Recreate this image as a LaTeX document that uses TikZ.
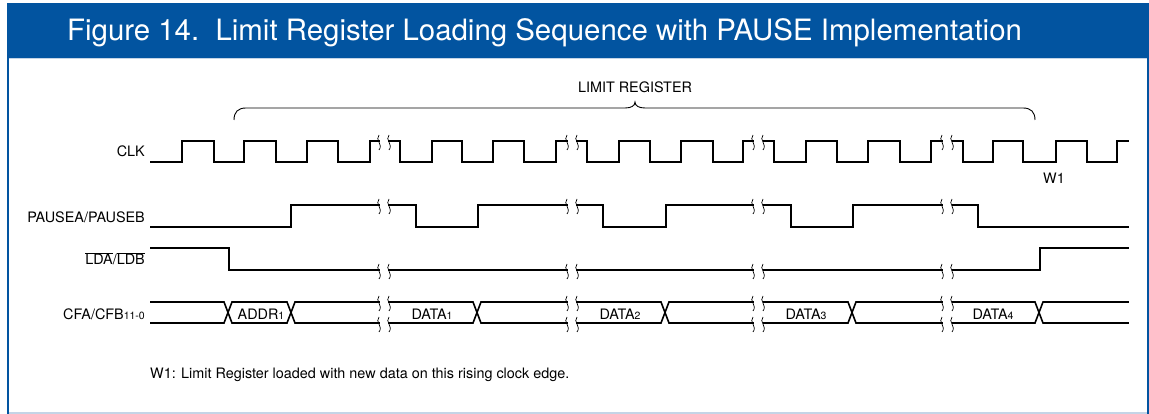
\documentclass[tikz,border=0pt]{standalone}
\usepackage{fontspec}
\setmainfont{TeX Gyre Heros}
\definecolor{hdr}{RGB}{2,84,160}
\definecolor{rulec}{RGB}{196,212,230}
\newcommand\wig[2]{\draw[brk] (#1,#2-6) .. controls (#1-4.5,#2-1) and (#1+4.5,#2+3) .. (#1,#2+9);}
\newcommand\brkpair[2]{\wig{#1}{#2}\wig{#1+10}{#2}}
\newcommand\sm[1]{\raisebox{-0.8pt}{\fontsize{10.5}{11}\selectfont #1}}
\begin{document}
\begin{tikzpicture}[x=1pt,y=-1pt,
  sig/.style={line width=1.6pt, line join=miter, line cap=rect},
  brk/.style={line width=0.7pt},
  lbl/.style={font=\fontsize{14.4}{16}\selectfont, inner sep=0pt},
  ttl/.style={font=\fontsize{29.4}{32}\selectfont, text=white, inner sep=0pt}]
\useasboundingbox (0,0) rectangle (1149,414);
\fill[white] (0,0) rectangle (1149,414);
% frame
\fill[hdr] (7,3) rectangle (1149,58);
\fill[rulec] (9,58) rectangle (1147,59.5);
\fill[hdr] (7,58) rectangle (9,414);
\fill[hdr] (1147,58) rectangle (1149,414);
\fill[rulec] (9,411.5) rectangle (1147,414);
\node[ttl, anchor=base west] (title) at (67,41) {Figure 14.\ \ Limit Register Loading Sequence with PAUSE Implementation};
% labels
\node[lbl, anchor=base east] (lclk) at (145,157) {CLK};
\node[lbl, anchor=base east] (lpause) at (145,223) {PAUSEA/PAUSEB};
\node[lbl, anchor=base east] (llda) at (145,265) {$\overline{\mbox{LDA}}$/$\overline{\mbox{LDB}}$};
\node[lbl, anchor=base east] (lcfa) at (145,319) {CFA/CFB\sm{11-0}};
% brace
\draw[line width=0.9pt] (234,120) .. controls (234,112) and (238,108) .. (246,108) -- (625,108) .. controls (631,108) and (635,106) .. (635,102) .. controls (635,106) and (639,108) .. (645,108) -- (1023,108) .. controls (1031,108) and (1035,112) .. (1035,120);
\node[lbl, anchor=base] (limreg) at (635,93) {LIMIT REGISTER};
% CLK
\draw[sig] (151,162) -- (182,162) -- (182,141) -- (214,141) -- (214,162) -- (244,162) -- (244,141) -- (276,141) -- (276,162) -- (307,162) -- (307,141) -- (338,141) -- (338,162) -- (370,162) -- (370,141) -- (379,141);
\draw[sig] (389,141) -- (400,141) -- (400,162) -- (432,162) -- (432,141) -- (462,141) -- (462,162) -- (493,162) -- (493,141) -- (524,141) -- (524,162) -- (556,162) -- (556,141) -- (567,141);
\draw[sig] (577,141) -- (587,141) -- (587,162) -- (619,162) -- (619,141) -- (650,141) -- (650,162) -- (681,162) -- (681,141) -- (713,141) -- (713,162) -- (743,162) -- (743,141) -- (753,141);
\draw[sig] (764,141) -- (774,141) -- (774,162) -- (806,162) -- (806,141) -- (837,141) -- (837,162) -- (868,162) -- (868,141) -- (900,141) -- (900,162) -- (931,162) -- (931,141) -- (942,141);
\draw[sig] (953,141) -- (963,141) -- (963,162) -- (993,162) -- (993,141) -- (1023,141) -- (1023,162) -- (1056,162) -- (1056,141) -- (1087,141) -- (1087,162) -- (1117,162) -- (1117,141) -- (1128,141);
\node[lbl, anchor=base] (w1) at (1054,184) {W1};
% PAUSE
\draw[sig] (151,227) -- (291,227) -- (291,205) -- (379,205);
\draw[sig] (389,205) -- (416,205) -- (416,227) -- (478,227) -- (478,205) -- (567,205);
\draw[sig] (577,205) -- (603,205) -- (603,227) -- (666,227) -- (666,205) -- (753,205);
\draw[sig] (764,205) -- (791,205) -- (791,227) -- (853,227) -- (853,205) -- (942,205);
\draw[sig] (953,205) -- (978,205) -- (978,227) -- (1128,227);
% LDA
\draw[sig] (151,248) -- (229,248) -- (229,270) -- (379,270);
\draw[sig] (389,270) -- (567,270);
\draw[sig] (577,270) -- (753,270);
\draw[sig] (764,270) -- (942,270);
\draw[sig] (953,270) -- (1040,270) -- (1040,248) -- (1128,248);
% CFA bus
\foreach \ya/\yb in {302/323,323/302}{
  \draw[sig] (151,\ya) -- (224,\ya) -- (232,\yb) -- (287,\yb) -- (295,\ya) -- (379,\ya);
  \draw[sig] (389,\ya) -- (473,\ya) -- (481,\yb) -- (567,\yb);
  \draw[sig] (577,\yb) -- (661,\yb) -- (669,\ya) -- (753,\ya);
  \draw[sig] (764,\ya) -- (848,\ya) -- (856,\yb) -- (942,\yb);
  \draw[sig] (953,\yb) -- (1035,\yb) -- (1043,\ya) -- (1128,\ya);
}
\node[lbl, anchor=base] (addr) at (261,319) {ADDR\sm{1}};
\node[lbl, anchor=base] (d1) at (432,319) {DATA\sm{1}};
\node[lbl, anchor=base] (d2) at (620,319) {DATA\sm{2}};
\node[lbl, anchor=base] (d3) at (806,319) {DATA\sm{3}};
\node[lbl, anchor=base] (d4) at (993,319) {DATA\sm{4}};
% breaks
\foreach \bx in {379,567,753,942}{
  \brkpair{\bx}{141}
  \brkpair{\bx}{205}
  \brkpair{\bx}{270}
  \brkpair{\bx}{302}
  \brkpair{\bx}{323}
}
\node[lbl, anchor=base west] (note) at (150,378) {W1: Limit Register loaded with new data on this rising clock edge.};
\end{tikzpicture}
\end{document}
